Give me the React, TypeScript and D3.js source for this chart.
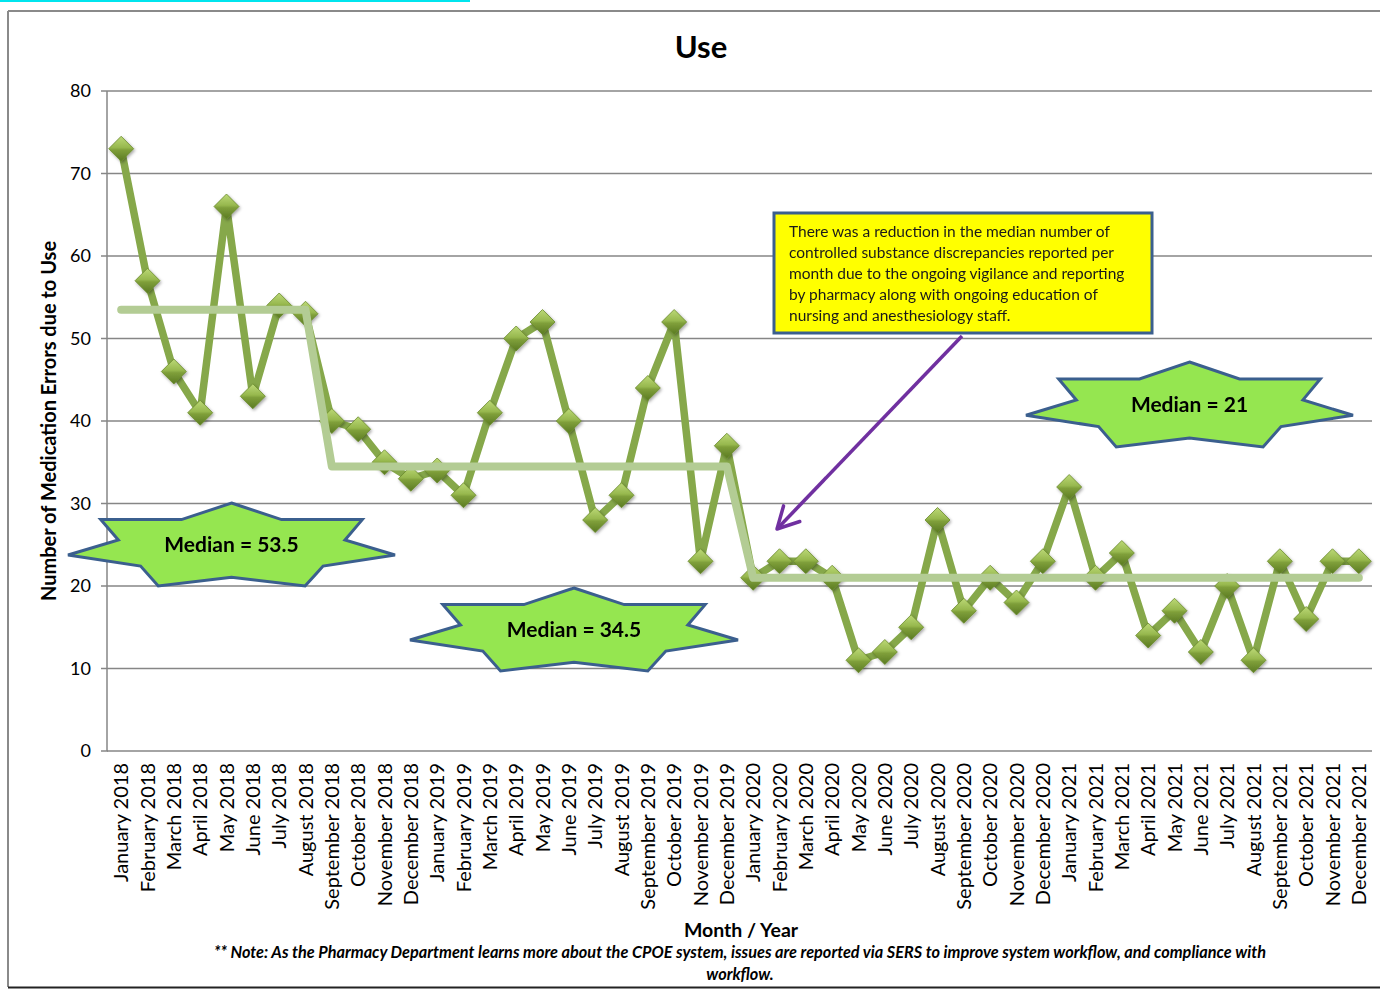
import React from "react";
import * as d3 from "d3";

// Monthly counts of medication errors due to use, Jan 2018 – Dec 2021
const months: string[] = [
  "January 2018", "February 2018", "March 2018", "April 2018", "May 2018", "June 2018",
  "July 2018", "August 2018", "September 2018", "October 2018", "November 2018", "December 2018",
  "January 2019", "February 2019", "March 2019", "April 2019", "May 2019", "June 2019",
  "July 2019", "August 2019", "September 2019", "October 2019", "November 2019", "December 2019",
  "January 2020", "February 2020", "March 2020", "April 2020", "May 2020", "June 2020",
  "July 2020", "August 2020", "September 2020", "October 2020", "November 2020", "December 2020",
  "January 2021", "February 2021", "March 2021", "April 2021", "May 2021", "June 2021",
  "July 2021", "August 2021", "September 2021", "October 2021", "November 2021", "December 2021",
];

const errorCounts: number[] = [
  73, 57, 46, 41, 66, 43, 54, 53, 40, 39, 35, 33,
  34, 31, 41, 50, 52, 40, 28, 31, 44, 52, 23, 37,
  21, 23, 23, 21, 11, 12, 15, 28, 17, 21, 18, 23,
  32, 21, 24, 14, 17, 12, 20, 11, 23, 16, 23, 23,
];

// Median per period (8 months, 16 months, 24 months)
const medianValues: number[] = [
  ...Array(8).fill(53.5),
  ...Array(16).fill(34.5),
  ...Array(24).fill(21),
];

const yTicks: number[] = [0, 10, 20, 30, 40, 50, 60, 70, 80];

const medianLabels: string[] = ["Median = 53.5", "Median = 34.5", "Median = 21"];

const calloutLines: string[] = [
  "There was a reduction in the median number of",
  "controlled substance discrepancies reported per",
  "month due to the ongoing vigilance and reporting",
  "by pharmacy along with ongoing education of",
  "nursing and anesthesiology staff.",
];

const noteLines: string[] = [
  "** Note: As the Pharmacy Department learns more about the CPOE system, issues are reported via SERS to improve system workflow, and compliance with",
  "workflow.",
];

// Layout
const W = 1380;
const H = 989;
const plot = { left: 108, right: 1372, top: 91, bottom: 751 };
const FONT = "Lato, 'Open Sans', sans-serif";

// Seven-point star outline in unit box coordinates
const starUnit: [number, number][] = [
  [0.5, 0], [0.653, 0.2], [0.9, 0.2], [0.847, 0.446], [1, 0.627], [0.78, 0.76],
  [0.725, 1], [0.5, 0.894], [0.276, 1], [0.222, 0.76], [0, 0.627], [0.154, 0.446],
  [0.1, 0.2], [0.347, 0.2],
];

const starBoxes = [
  { x: 68, y: 503, w: 327, h: 83 },
  { x: 410, y: 588, w: 328, h: 83 },
  { x: 1026, y: 362, w: 327, h: 85 },
];

export default function App() {
  const x = d3
    .scaleBand<string>()
    .domain(months)
    .range([plot.left, plot.right])
    .padding(0);
  const cx = (m: string) => (x(m) as number) + x.bandwidth() / 2;
  const y = d3.scaleLinear().domain([0, 80]).range([plot.bottom, plot.top]);

  const line = d3
    .line<number>()
    .x((_, i) => cx(months[i]))
    .y((d) => y(d));

  const r = 12.5;
  const diamond = `M0,${-r}L${r},0L0,${r}L${-r},0Z`;

  const starPath = (b: { x: number; y: number; w: number; h: number }) =>
    d3.line()(starUnit.map(([u, v]) => [b.x + u * b.w, b.y + v * b.h])) + "Z";

  // callout arrow
  const a0 = [962, 336];
  const a1 = [777, 529];
  const ang = Math.atan2(a1[1] - a0[1], a1[0] - a0[0]);
  const headLen = 24;
  const headA = (28 * Math.PI) / 180;
  const h1 = [a1[0] - headLen * Math.cos(ang - headA), a1[1] - headLen * Math.sin(ang - headA)];
  const h2 = [a1[0] - headLen * Math.cos(ang + headA), a1[1] - headLen * Math.sin(ang + headA)];

  return (
    <svg
      width={W}
      height={H}
      viewBox={`0 0 ${W} ${H}`}
      style={{ position: "absolute", left: 0, top: 0, display: "block", background: "#fff" }}
      fontFamily={FONT}
    >
      <defs>
        <linearGradient id="diamondFill" x1="0" y1="0" x2="0" y2="1">
          <stop offset="0" stopColor="#bcd977" />
          <stop offset="0.45" stopColor="#97b84e" />
          <stop offset="0.55" stopColor="#7f9f3a" />
          <stop offset="1" stopColor="#5a7a22" />
        </linearGradient>
        <filter id="markShadow" x="-50%" y="-50%" width="200%" height="200%">
          <feDropShadow dx="1.2" dy="1.6" stdDeviation="1.4" floodColor="#000" floodOpacity="0.35" />
        </filter>
      </defs>

      {/* page frame */}
      <line x1={0} y1={1} x2={470} y2={1} stroke="#00e5ee" strokeWidth={2} />
      <line x1={8} y1={11} x2={1380} y2={11} stroke="#8a8a8a" strokeWidth={2} />
      <line x1={8} y1={11} x2={8} y2={987} stroke="#8a8a8a" strokeWidth={2} />
      <line x1={8} y1={987.5} x2={1380} y2={987.5} stroke="#222" strokeWidth={2} />

      {/* title */}
      <text x={701} y={58} textAnchor="middle" fontSize={31} fontWeight="bold" fill="#000">
        Use
      </text>

      {/* gridlines and y axis */}
      {yTicks.map((t) => (
        <g key={t}>
          {t > 0 && (
            <line x1={plot.left} x2={plot.right} y1={y(t)} y2={y(t)} stroke="#868686" strokeWidth={1.5} />
          )}
          <line x1={plot.left - 7} x2={plot.left} y1={y(t)} y2={y(t)} stroke="#868686" strokeWidth={1.5} />
          <text x={91} y={y(t)} dy="0.35em" textAnchor="end" fontSize={18} fill="#000">
            {t}
          </text>
        </g>
      ))}
      <line x1={plot.left - 1} x2={plot.left - 1} y1={plot.top} y2={plot.bottom} stroke="#868686" strokeWidth={1.5} />
      <line x1={plot.left - 1} x2={plot.right} y1={plot.bottom} y2={plot.bottom} stroke="#868686" strokeWidth={1.5} />

      {/* x axis labels */}
      {months.map((m) => (
        <text
          key={m}
          transform={`translate(${cx(m) + 7},${plot.bottom + 12}) rotate(-90)`}
          textAnchor="end"
          fontSize={20}
          fill="#000"
        >
          {m}
        </text>
      ))}

      {/* axis titles */}
      <text
        transform={`translate(56,${(plot.top + plot.bottom) / 2 + 0}) rotate(-90)`}
        textAnchor="middle"
        fontSize={20}
        fontWeight="bold"
        fill="#000"
      >
        Number of Medication Errors due to Use
      </text>
      <text x={741} y={937} textAnchor="middle" fontSize={19.5} fontWeight="bold" fill="#000">
        Month / Year
      </text>
      {noteLines.map((t, i) => (
        <text
          key={i}
          x={740}
          y={958 + i * 22}
          textAnchor="middle"
          fontSize={16.3}
          fontWeight="bold"
          fontStyle="italic"
          fill="#000"
        >
          {t}
        </text>
      ))}

      {/* data series */}
      <path
        d={line(errorCounts) ?? ""}
        fill="none"
        stroke="#86a84a"
        strokeWidth={7.5}
        strokeLinejoin="round"
      />
      <g filter="url(#markShadow)">
        {errorCounts.map((v, i) => (
          <path
            key={i}
            d={diamond}
            transform={`translate(${cx(months[i])},${y(v)})`}
            fill="url(#diamondFill)"
            stroke="#6a8a2c"
            strokeWidth={0.8}
          />
        ))}
      </g>

      {/* median series */}
      <path
        d={line(medianValues) ?? ""}
        fill="none"
        stroke="#b3cc94"
        strokeWidth={8}
        strokeLinejoin="round"
        strokeLinecap="round"
      />

      {/* median badges */}
      {starBoxes.map((b, i) => (
        <g key={i}>
          <path d={starPath(b)} fill="#95e650" stroke="#3b5f8e" strokeWidth={3} strokeLinejoin="miter" />
          <text
            x={b.x + b.w / 2}
            y={b.y + b.h / 2}
            dy="0.35em"
            textAnchor="middle"
            fontSize={21}
            fontWeight="bold"
            fill="#000"
          >
            {medianLabels[i]}
          </text>
        </g>
      ))}

      {/* callout */}
      <rect x={774} y={213} width={378} height={120} fill="#ffff00" stroke="#3b5f8e" strokeWidth={3} />
      {calloutLines.map((t, i) => (
        <text key={i} x={789} y={237 + i * 21} fontSize={15.5} fill="#1a1a1a">
          {t}
        </text>
      ))}
      <line x1={a0[0]} y1={a0[1]} x2={a1[0]} y2={a1[1]} stroke="#7030a0" strokeWidth={3.5} />
      <polyline
        points={`${h1[0]},${h1[1]} ${a1[0]},${a1[1]} ${h2[0]},${h2[1]}`}
        fill="none"
        stroke="#7030a0"
        strokeWidth={3.5}
        strokeLinecap="round"
        strokeLinejoin="round"
      />
    </svg>
  );
}
